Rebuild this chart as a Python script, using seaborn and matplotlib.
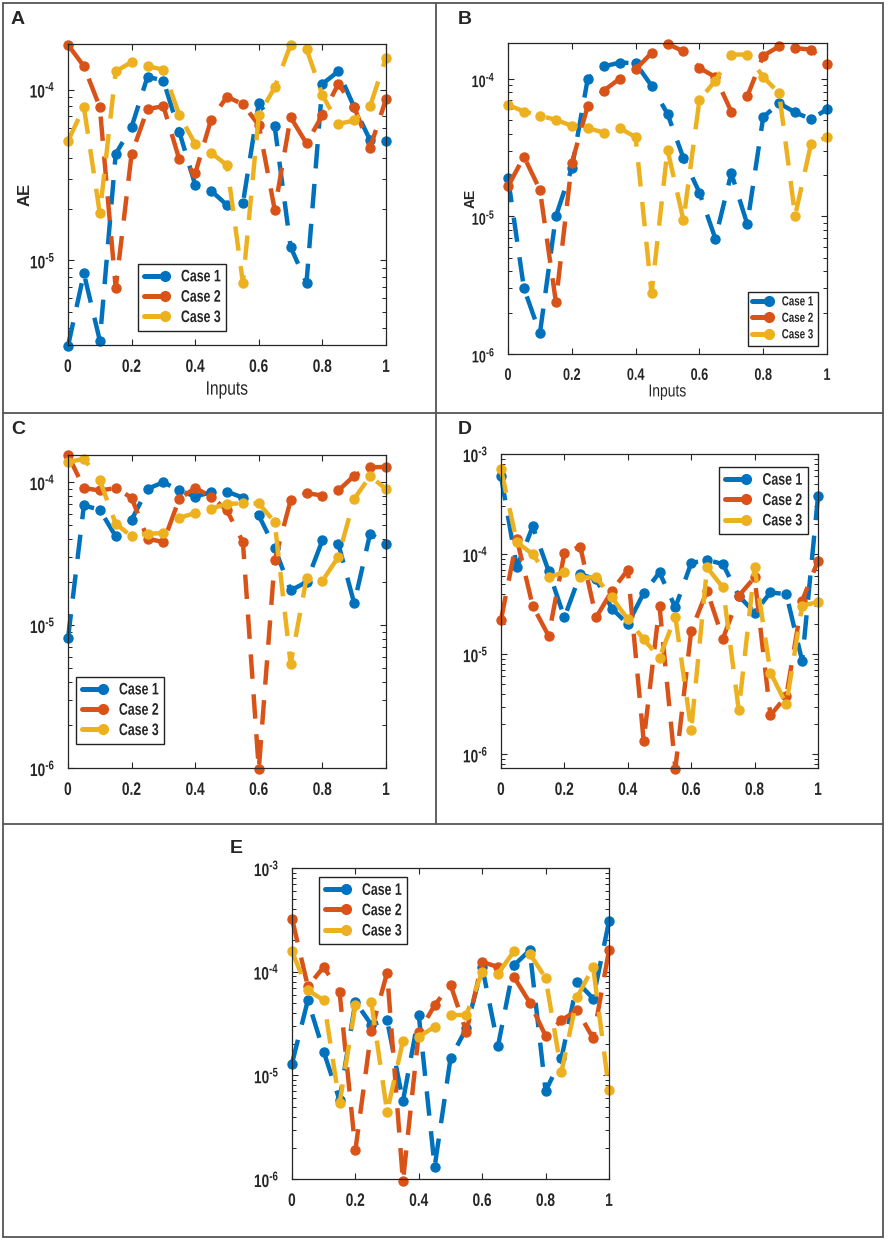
import numpy as np
import pandas as pd
import matplotlib
matplotlib.use('Agg')
import matplotlib.pyplot as plt
import matplotlib.ticker as mticker
from matplotlib.lines import Line2D
from matplotlib.legend_handler import HandlerLine2D
from matplotlib.patheffects import AbstractPathEffect
from matplotlib.transforms import Affine2D
import seaborn as sns

inputs = [0.0, 0.05, 0.1, 0.15, 0.2, 0.25, 0.3, 0.35, 0.4, 0.45, 0.5,
          0.55, 0.6, 0.65, 0.7, 0.75, 0.8, 0.85, 0.9, 0.95, 1.0]

a_case1 = [3.15e-6, 8.4e-6, 3.4e-6, 4.2e-5, 6.05e-5, 1.19e-4, 1.13e-4, 5.66e-5, 2.77e-5, 2.56e-5, 2.11e-5,
           2.16e-5, 8.36e-5, 6.1e-5, 1.2e-5, 7.4e-6, 1.08e-4, 1.28e-4, 7.9e-5, 5.06e-5, 5.0e-5]
a_case2 = [1.83e-4, 1.37e-4, 7.9e-5, 6.9e-6, 4.2e-5, 7.7e-5, 8.0e-5, 3.9e-5, 3.23e-5, 6.68e-5, 9.1e-5,
           8.2e-5, 6.2e-5, 1.98e-5, 6.9e-5, 4.84e-5, 7.1e-5, 1.08e-4, 7.9e-5, 4.57e-5, 8.8e-5]
a_case3 = [5.0e-5, 7.9e-5, 1.89e-5, 1.28e-4, 1.45e-4, 1.37e-4, 1.31e-4, 7.1e-5, 4.8e-5, 4.27e-5, 3.61e-5,
           7.4e-6, 7.1e-5, 1.03e-4, 1.83e-4, 1.73e-4, 9.3e-5, 6.3e-5, 6.6e-5, 8.0e-5, 1.54e-4]

b_case1 = [1.9e-5, 3.0e-6, 1.41e-6, 1.0e-5, 2.24e-5, 1.0e-4, 1.23e-4, 1.31e-4, 1.3e-4, 8.9e-5, 5.56e-5,
           2.65e-5, 1.49e-5, 6.9e-6, 2.06e-5, 8.8e-6, 5.26e-5, 6.65e-5, 5.7e-5, 5.09e-5, 6.0e-5]
b_case2 = [1.65e-5, 2.72e-5, 1.56e-5, 2.4e-6, 2.44e-5, 6.37e-5, 8.2e-5, 1.0e-4, 1.17e-4, 1.54e-4, 1.8e-4,
           1.58e-4, 1.2e-4, 1.03e-4, 5.78e-5, 7.44e-5, 1.47e-4, 1.72e-4, 1.67e-4, 1.63e-4, 1.28e-4]
b_case3 = [6.47e-5, 5.78e-5, 5.38e-5, 5.04e-5, 4.55e-5, 4.38e-5, 4.07e-5, 4.38e-5, 3.77e-5, 2.76e-6, 3.05e-5,
           9.4e-6, 7.0e-5, 9.7e-5, 1.5e-4, 1.5e-4, 1.03e-4, 7.86e-5, 1.01e-5, 3.37e-5, 3.77e-5]

c_case1 = [8.07e-6, 6.88e-5, 6.41e-5, 4.18e-5, 5.46e-5, 8.98e-5, 1.0e-4, 8.75e-5, 7.94e-5, 8.5e-5, 8.6e-5,
           7.78e-5, 5.85e-5, 3.48e-5, 1.75e-5, 2.0e-5, 3.92e-5, 3.71e-5, 1.42e-5, 4.36e-5, 3.71e-5]
c_case2 = [1.55e-4, 9.1e-5, 8.75e-5, 9.1e-5, 7.78e-5, 4.03e-5, 3.81e-5, 7.65e-5, 9.1e-5, 7.94e-5, 6.34e-5,
           3.81e-5, 9.8e-7, 2.84e-5, 7.45e-5, 8.38e-5, 8.07e-5, 8.75e-5, 1.11e-4, 1.27e-4, 1.28e-4]
c_case3 = [1.38e-4, 1.46e-4, 1.03e-4, 5.12e-5, 4.18e-5, 4.36e-5, 4.4e-5, 5.64e-5, 6.08e-5, 6.52e-5, 7.06e-5,
           7.1e-5, 7.1e-5, 5.26e-5, 5.35e-6, 2.12e-5, 2.04e-5, 3.0e-5, 7.65e-5, 1.1e-4, 8.98e-5]

d_case1 = [6.0e-4, 7.36e-5, 1.89e-4, 6.8e-5, 2.33e-5, 6.3e-5, 5.6e-5, 2.86e-5, 2.0e-5, 4.07e-5, 6.56e-5,
           2.93e-5, 8.13e-5, 8.77e-5, 7.94e-5, 3.83e-5, 2.61e-5, 4.14e-5, 3.98e-5, 8.58e-6, 3.77e-4]
d_case2 = [2.2e-5, 1.41e-4, 3.04e-5, 1.53e-5, 1.02e-4, 1.19e-4, 2.33e-5, 4.3e-5, 6.97e-5, 1.36e-6, 3.04e-5,
           7.2e-7, 1.71e-5, 4.3e-5, 1.43e-5, 3.83e-5, 5.85e-5, 2.45e-6, 3.83e-6, 3.42e-5, 8.58e-5]
d_case3 = [7.08e-4, 1.31e-4, 1.0e-4, 5.85e-5, 6.65e-5, 5.85e-5, 5.85e-5, 3.69e-5, 2.24e-5, 1.41e-5, 9.26e-6,
           2.38e-5, 1.75e-6, 7.36e-5, 4.64e-5, 2.77e-6, 7.36e-5, 6.56e-6, 3.16e-6, 3.04e-5, 3.33e-5]

e_case1 = [1.3e-5, 5.3e-5, 1.69e-5, 5.77e-6, 5.12e-5, 3.09e-5, 3.4e-5, 5.64e-6, 3.8e-5, 1.31e-6, 1.46e-5,
           2.83e-5, 1.11e-4, 1.93e-5, 1.15e-4, 1.61e-4, 7.05e-6, 1.46e-5, 7.96e-5, 5.5e-5, 3.06e-4]
e_case2 = [3.25e-4, 7.2e-5, 1.11e-4, 6.38e-5, 1.9e-6, 2.67e-5, 9.8e-5, 9.5e-7, 2.59e-5, 4.75e-5, 7.5e-5,
           2.63e-5, 1.24e-4, 1.11e-4, 8.9e-5, 5.04e-5, 2.4e-5, 3.4e-5, 4.25e-5, 2.27e-5, 1.61e-4]
e_case3 = [1.57e-4, 6.62e-5, 5.3e-5, 5.36e-6, 4.75e-5, 5.12e-5, 4.45e-6, 2.14e-5, 2.35e-5, 2.94e-5, 3.8e-5,
           3.83e-5, 9.96e-5, 9.6e-5, 1.57e-4, 1.49e-4, 8.7e-5, 1.08e-5, 5.71e-5, 1.11e-4, 7.2e-6]

case_names = ['Case 1', 'Case 2', 'Case 3']
colors = ['#0072BD', '#D95319', '#EDB120']
xtick_vals = [0, 0.2, 0.4, 0.6, 0.8, 1]
xtick_labels = ['0', '0.2', '0.4', '0.6', '0.8', '1']

sns.set_theme(style='ticks')
plt.rcParams['font.family'] = ['Liberation Sans', 'DejaVu Sans']
plt.rcParams['font.weight'] = 'bold'
plt.rcParams['mathtext.default'] = 'regular'

W, H = 888, 1242
fig = plt.figure(figsize=(W / 100, H / 100), dpi=100)
fig.patch.set_facecolor('white')


class Squeeze(AbstractPathEffect):
    # narrow the glyphs sideways, the reference uses a condensed face
    def __init__(self, sx=0.75, anchor='center'):
        super().__init__()
        self.sx = sx
        self.anchor = anchor

    def draw_path(self, renderer, gc, tpath, affine, rgbFace=None):
        xs = tpath.vertices[:, 0]
        if len(xs) == 0:
            return
        if self.anchor == 'left':
            cx = xs.min()
        elif self.anchor == 'right':
            cx = xs.max()
        else:
            cx = 0.5 * (xs.min() + xs.max())
        tr = Affine2D().translate(-cx, 0).scale(self.sx, 1).translate(cx, 0) + affine
        renderer.draw_path(gc, tpath, tr, rgbFace)


class EndMarkerHandler(HandlerLine2D):
    # legend line with the dot sitting at its right end
    def create_artists(self, legend, orig_handle, xdescent, ydescent, width, height, fontsize, trans):
        artists = super().create_artists(legend, orig_handle, xdescent, ydescent,
                                         width, height, fontsize, trans)
        if len(artists) == 1:
            artists[0].set_markevery([len(artists[0].get_xdata()) - 1])
        else:
            artists[-1].set_xdata([width - xdescent])
        return artists


def decadeLabel(v, pos):
    e = int(round(np.log10(v)))
    return '$\\mathdefault{10^{\u2010%d}}$' % abs(e)


def pxAxes(x0, y0, x1, y1):
    return fig.add_axes([x0 / W, 1 - y1 / H, (x1 - x0) / W, (y1 - y0) / H])


def figLine(x0, y0, x1, y1):
    fig.add_artist(Line2D([x0 / W, x1 / W], [1 - y0 / H, 1 - y1 / H],
                          color='#555555', lw=1.3))


def drawPanel(ax, cases, ylim, legLoc, legAnchor, legSize=12, tickSize=13):
    ax.set_yscale('log')
    for vals, color in zip(cases, colors):
        sns.lineplot(x=inputs, y=vals, ax=ax, color=color, lw=3.2,
                     linestyle=(0, (5.5, 3.5)), marker='o', markersize=6.5,
                     markeredgecolor=color, markeredgewidth=1, clip_on=False,
                     legend=False)
    ax.set_xlim(0, 1)
    ax.set_ylim(*ylim)
    ax.set_xticks(xtick_vals)
    ax.set_xticklabels(xtick_labels)
    ax.yaxis.set_major_locator(mticker.LogLocator(base=10))
    ax.yaxis.set_minor_locator(mticker.LogLocator(base=10, subs=[2, 3, 4, 5, 6, 7, 8, 9]))
    ax.yaxis.set_major_formatter(mticker.FuncFormatter(decadeLabel))
    ax.yaxis.set_minor_formatter(mticker.NullFormatter())
    ax.tick_params(which='both', direction='in', top=True, right=True,
                   color='#262626', labelsize=tickSize)
    ax.tick_params(axis='x', pad=10)
    ax.tick_params(axis='y', pad=9)
    ax.tick_params(which='major', length=4, width=0.8)
    ax.tick_params(which='minor', length=3, width=0.7)
    for sp in ax.spines.values():
        sp.set_color('#262626')
        sp.set_linewidth(0.9)
    handles = [Line2D([0, 1], [0, 0], color=c, lw=3.6, marker='o', markersize=7) for c in colors]
    leg = ax.legend(handles, case_names, loc=legLoc, bbox_to_anchor=legAnchor,
                    handler_map={Line2D: EndMarkerHandler(numpoints=1)},
                    fancybox=False, framealpha=1, edgecolor='#222222',
                    fontsize=legSize, handlelength=1.25, handletextpad=0.15,
                    labelspacing=0.32, borderpad=0.35, borderaxespad=0)
    leg.get_frame().set_linewidth(1.0)
    for t in leg.get_texts():
        t.set_path_effects([Squeeze(0.74, 'right')])
    for t in ax.get_xticklabels():
        t.set_path_effects([Squeeze(0.76, 'center')])
    for t in ax.get_yticklabels():
        t.set_path_effects([Squeeze(0.76, 'right')])
    return ax


axA = drawPanel(pxAxes(68, 44, 386, 345), [a_case1, a_case2, a_case3],
                (3.2e-6, 1.85e-4), 'lower left', (0.22, 0.047))
axA.set_ylabel('AE', fontsize=12, fontweight='bold', va='center')
axA.yaxis.set_label_coords(-0.135, 0.5)
axA.set_xlabel('Inputs', fontsize=14, fontweight='normal', va='center')
axA.xaxis.set_label_coords(0.5, -0.15)
axA.xaxis.label.set_path_effects([Squeeze(0.8, 'center')])

axB = drawPanel(pxAxes(508, 43, 827, 354), [b_case1, b_case2, b_case3],
                (1e-6, 1.82e-4), 'lower right', (0.972, 0.026), legSize=9.5, tickSize=12)
axB.set_ylabel('AE', fontsize=10, fontweight='bold', va='center')
axB.yaxis.set_label_coords(-0.116, 0.5)
axB.set_xlabel('Inputs', fontsize=12.5, fontweight='normal', va='center')
axB.xaxis.set_label_coords(0.5, -0.122)
axB.xaxis.label.set_path_effects([Squeeze(0.8, 'center')])

drawPanel(pxAxes(68, 455, 386, 768), [c_case1, c_case2, c_case3],
          (1e-6, 1.55e-4), 'lower left', (0.025, 0.077))
drawPanel(pxAxes(501, 454, 818, 768), [d_case1, d_case2, d_case3],
          (7.3e-7, 1e-3), 'upper right', (0.968, 0.959))
drawPanel(pxAxes(292, 868, 609, 1179), [e_case1, e_case2, e_case3],
          (1e-6, 1e-3), 'upper left', (0.085, 0.971))

# panel letters
for lab, px, py in [('A', 11, 11), ('B', 458, 11), ('C', 11, 421), ('D', 458, 421), ('E', 230, 840)]:
    fig.text(px / W, 1 - py / H, lab, fontsize=14, fontweight='bold',
             va='top', ha='left')

# table borders
figLine(3, 3, 883, 3)
figLine(3, 3, 3, 1237)
figLine(883, 3, 883, 1237)
figLine(3, 1237, 883, 1237)
figLine(3, 413, 883, 413)
figLine(3, 824, 883, 824)
figLine(436, 3, 436, 824)

fig.savefig('out.png', dpi=100, facecolor='white')
